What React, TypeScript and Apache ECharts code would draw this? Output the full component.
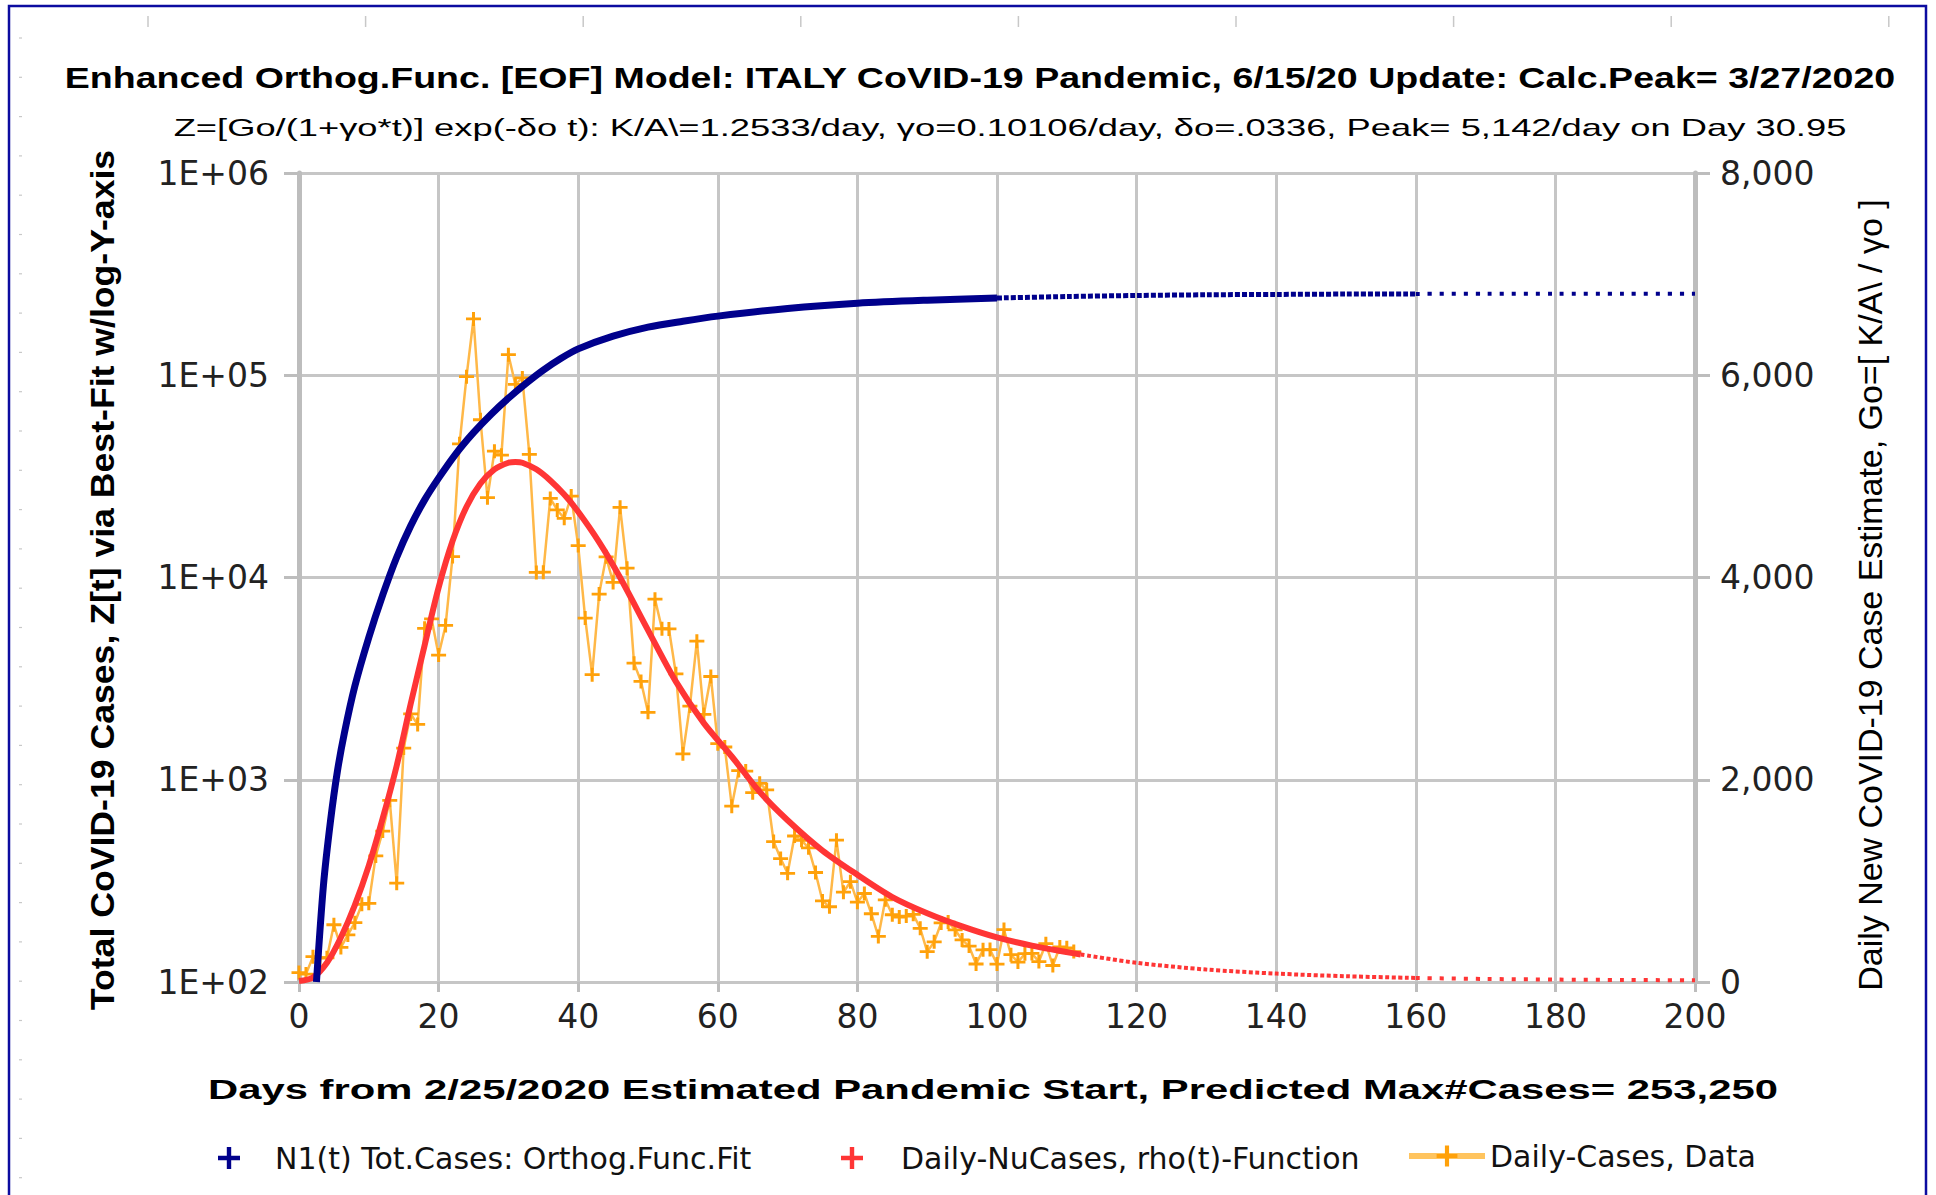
import React, { useEffect, useRef } from "react";
import * as echarts from "echarts";

// ---------- texts ----------
const TITLE =
  "Enhanced Orthog.Func. [EOF] Model: ITALY CoVID-19 Pandemic, 6/15/20 Update: Calc.Peak= 3/27/2020";
const SUBTITLE =
  "Z=[Go/(1+γo*t)] exp(-δo t): K/A\\=1.2533/day, γo=0.10106/day, δo=.0336, Peak= 5,142/day on Day 30.95";
const X_NAME =
  "Days from 2/25/2020 Estimated Pandemic Start, Predicted Max#Cases= 253,250";
const Y_LEFT_NAME = "Total CoVID-19 Cases, Z[t] via Best-Fit w/log-Y-axis";
const Y_RIGHT_NAME = "Daily New CoVID-19 Case Estimate, Go=[ K/A\\ / γo ]";

const NAME_FIT = "N1(t) Tot.Cases: Orthog.Func.Fit";
const NAME_RHO = "Daily-NuCases, rho(t)-Function";
const NAME_DATA = "Daily-Cases, Data";

// ---------- axes ----------
const X_MIN = 0;
const X_MAX = 200;
const X_STEP = 20;
const Y_LOG_MIN = 100;
const Y_LOG_MAX = 1000000;
const Y_LIN_MIN = 0;
const Y_LIN_MAX = 8000;
const Y_LIN_STEP = 2000;

// ---------- daily case data (day 0 = 2/25/2020) ----------
const DATA_DAYS = Array.from({ length: 112 }, (_, i) => i);
const DAILY_CASES = [
  93, 78, 250, 238, 240, 566, 342, 466, 587, 769,
  778, 1247, 1492, 1797, 977, 2313, 2651, 2547, 3497, 3590,
  3233, 3526, 4207, 5322, 5986, 6557, 5560, 4789, 5249, 5210,
  6203, 5909, 5974, 5217, 4050, 4053, 4782, 4668, 4585, 4805,
  4316, 3599, 3039, 3836, 4204, 3951, 4694, 4092, 3153, 2972,
  2667, 3786, 3493, 3491, 3047, 2256, 2729, 3370, 2646, 3021,
  2357, 2324, 1739, 2091, 2086, 1872, 1965, 1900, 1389, 1221,
  1075, 1444, 1401, 1327, 1083, 802, 744, 1402, 888, 992,
  789, 875, 675, 451, 813, 665, 642, 652, 669, 531,
  300, 397, 584, 593, 516, 416, 355, 178, 318, 321,
  177, 518, 270, 197, 280, 283, 202, 379, 163, 346,
  338, 301,
];

// ---------- total-case fit (left log axis) ----------
const FIT_DAYS = [
  2.5, 3.5, 4.5, 5.5, 6.5, 8, 10, 12, 14, 16, 18, 20, 22.5, 25, 27.5, 30,
  32.5, 35, 37.5, 40, 45, 50, 55, 60, 70, 80, 90, 100,
];
const FIT_TOTAL = [
  100, 300, 620, 1100, 1700, 2900, 5050, 8200, 12600, 18000, 24200, 31000,
  41000, 52000, 64000, 77000, 91000, 106000, 121000, 135000, 156000, 173000,
  185000, 196000, 214000, 227000, 235000, 241000,
];
const FIT_MID_DAYS = [100, 110, 120, 130, 140, 150, 160];
const FIT_MID_TOTAL = [241000, 245000, 248000, 250000, 251000, 252000, 252500];
const FIT_FAR_DAYS = [160, 170, 180, 190, 200];
const FIT_FAR_TOTAL = [252500, 252800, 253000, 253100, 253200];

// ---------- daily rho(t) function (right axis) ----------
const RHO_DAYS = [
  0, 2, 4, 6, 8, 10, 12, 14, 16, 18, 20, 22, 24, 26, 28, 30, 31, 32, 34, 36,
  38, 40, 43, 46, 50, 54, 58, 62, 66, 70, 75, 80, 85, 90, 95, 100, 105, 112,
];
const RHO_DAILY = [
  10, 45, 190, 440, 760, 1150, 1620, 2140, 2750, 3330, 3900, 4360, 4700, 4930,
  5070, 5135, 5142, 5135, 5070, 4960, 4820, 4650, 4350, 4000, 3480, 2970,
  2560, 2230, 1880, 1600, 1300, 1060, 840, 680, 550, 441, 360, 272,
];
const RHO_MID_DAYS = [112, 120, 130, 140, 150, 160];
const RHO_MID_DAILY = [272, 190, 123, 83, 57, 40];
const RHO_FAR_DAYS = [160, 170, 180, 190, 200];
const RHO_FAR_DAILY = [40, 30, 24, 20, 17];

// ---------- colours ----------
const BLUE = "#00008c";
const RED = "#ff3535";
const ORANGE = "#ffa10a";
const ORANGE_LINE = "#ffb848";
const GRID = "#c6c6c6";
const AXIS = "#bdbdbd";

const PLUS = "path://M6,0H9V6H15V9H9V15H6V9H0V6H6Z";

const pairs = (xs: number[], ys: number[]) => xs.map((x, i) => [x, ys[i]]);

function measure(text: string, font: string): number {
  const ctx = document.createElement("canvas").getContext("2d");
  if (!ctx) return 1;
  ctx.font = font;
  return ctx.measureText(text).width || 1;
}

function fittedText(
  text: string,
  font: string,
  cx: number,
  cy: number,
  target: number,
  rotation = 0,
  fill = "#000"
) {
  return {
    type: "text",
    x: cx,
    y: cy,
    rotation,
    scaleX: target / measure(text, font),
    silent: true,
    z: 10,
    style: {
      text,
      font,
      fill,
      align: "center",
      verticalAlign: "middle",
      textAlign: "center",
      textVerticalAlign: "middle",
    },
  };
}

function decorations() {
  const els: any[] = [];
  for (let i = 0; i < 9; i++) {
    const x = 148 + i * 217.6;
    els.push({
      type: "line",
      silent: true,
      shape: { x1: x, y1: 16, x2: x, y2: 27 },
      style: { stroke: "#c8c8c8", lineWidth: 1.5 },
    });
  }
  for (let y = 38; y < 1195; y += 39.3) {
    els.push({
      type: "line",
      silent: true,
      shape: { x1: 19, y1: y, x2: 22, y2: y },
      style: { stroke: "#c8c8c8", lineWidth: 1.2 },
    });
  }
  els.push({
    type: "rect",
    silent: true,
    shape: { x: 9, y: 6, width: 1917, height: 1210 },
    style: { fill: "none", stroke: "#0c0ca0", lineWidth: 2.5 },
  });
  return els;
}

const LABEL_FONT = "DejaVu Sans";
const LEGEND_TOP = 1138;

export default function App() {
  const ref = useRef<HTMLDivElement>(null);

  useEffect(() => {
    if (!ref.current) return;
    const chart = echarts.init(ref.current, undefined, { renderer: "svg" });

    const legendText = {
      fontFamily: LABEL_FONT,
      fontSize: 30,
      color: "#111",
    };

    const option: any = {
      animation: false,
      backgroundColor: "#ffffff",
      grid: {
        left: 299,
        right: 241,
        top: 173,
        bottom: 213,
        containLabel: false,
        outerBoundsMode: "none",
      },
      legend: [
        {
          data: [{ name: NAME_FIT, icon: PLUS }],
          left: 213,
          top: LEGEND_TOP,
          itemWidth: 82,
          itemHeight: 22,
          textStyle: legendText,
          selectedMode: false,
        },
        {
          data: [{ name: NAME_RHO, icon: PLUS }],
          left: 836,
          top: LEGEND_TOP,
          itemWidth: 88,
          itemHeight: 22,
          textStyle: legendText,
          selectedMode: false,
        },
        {
          data: [NAME_DATA],
          left: 1401,
          top: LEGEND_TOP - 2,
          itemWidth: 76,
          itemHeight: 26,
          textStyle: legendText,
          lineStyle: { width: 6, color: "#ffc45e" },
          selectedMode: false,
        },
      ],
      xAxis: {
        type: "value",
        min: X_MIN,
        max: X_MAX,
        interval: X_STEP,
        axisLine: { show: true, lineStyle: { color: GRID, width: 3 } },
        axisTick: { show: true, length: 10, lineStyle: { color: AXIS, width: 3 } },
        splitLine: { show: true, lineStyle: { color: GRID, width: 3 } },
        axisLabel: {
          fontFamily: LABEL_FONT,
          fontSize: 33,
          color: "#222",
          margin: 18,
        },
      },
      yAxis: [
        {
          type: "log",
          logBase: 10,
          min: Y_LOG_MIN,
          max: Y_LOG_MAX,
          position: "left",
          axisLine: { show: true, lineStyle: { color: AXIS, width: 5 } },
          axisTick: { show: true, length: 15, lineStyle: { color: AXIS, width: 3 } },
          splitLine: { show: true, lineStyle: { color: GRID, width: 3 } },
          minorTick: { show: false },
          axisLabel: {
            fontFamily: LABEL_FONT,
            fontSize: 33,
            color: "#222",
            margin: 30,
            formatter: (v: number) => {
              const e = Math.round(Math.log10(v));
              return "1E+" + String(e).padStart(2, "0");
            },
          },
        },
        {
          type: "value",
          min: Y_LIN_MIN,
          max: Y_LIN_MAX,
          interval: Y_LIN_STEP,
          position: "right",
          axisLine: { show: true, lineStyle: { color: AXIS, width: 5 } },
          axisTick: { show: true, length: 15, lineStyle: { color: AXIS, width: 3 } },
          splitLine: { show: false },
          axisLabel: {
            fontFamily: LABEL_FONT,
            fontSize: 33,
            color: "#222",
            margin: 25,
            formatter: (v: number) => v.toLocaleString("en-US"),
          },
        },
      ],
      series: [
        {
          name: NAME_DATA,
          type: "line",
          yAxisIndex: 1,
          data: pairs(DATA_DAYS, DAILY_CASES),
          symbol: PLUS,
          symbolSize: [15, 14],
          showSymbol: true,
          showAllSymbol: true,
          itemStyle: { color: ORANGE },
          lineStyle: { color: ORANGE_LINE, width: 2.5 },
          z: 2,
        },
        {
          name: NAME_RHO,
          type: "line",
          yAxisIndex: 1,
          data: pairs(RHO_DAYS, RHO_DAILY),
          smooth: 0.3,
          showSymbol: false,
          itemStyle: { color: RED },
          lineStyle: { color: RED, width: 6 },
          z: 3,
        },
        {
          name: NAME_RHO,
          type: "line",
          yAxisIndex: 1,
          data: pairs(RHO_MID_DAYS, RHO_MID_DAILY),
          smooth: 0.3,
          showSymbol: false,
          itemStyle: { color: RED },
          lineStyle: { color: RED, width: 4, type: [4, 2.5] },
          z: 3,
        },
        {
          name: NAME_RHO,
          type: "line",
          yAxisIndex: 1,
          data: pairs(RHO_FAR_DAYS, RHO_FAR_DAILY),
          smooth: 0.3,
          showSymbol: false,
          itemStyle: { color: RED },
          lineStyle: { color: RED, width: 4, type: [4, 8] },
          z: 3,
        },
        {
          name: NAME_FIT,
          type: "line",
          yAxisIndex: 0,
          data: pairs(FIT_DAYS, FIT_TOTAL),
          smooth: 0.3,
          showSymbol: false,
          itemStyle: { color: BLUE },
          lineStyle: { color: BLUE, width: 7 },
          z: 4,
        },
        {
          name: NAME_FIT,
          type: "line",
          yAxisIndex: 0,
          data: pairs(FIT_MID_DAYS, FIT_MID_TOTAL),
          smooth: 0.3,
          showSymbol: false,
          itemStyle: { color: BLUE },
          lineStyle: { color: BLUE, width: 5, type: [5, 2] },
          z: 4,
        },
        {
          name: NAME_FIT,
          type: "line",
          yAxisIndex: 0,
          data: pairs(FIT_FAR_DAYS, FIT_FAR_TOTAL),
          smooth: 0.3,
          showSymbol: false,
          itemStyle: { color: BLUE },
          lineStyle: { color: BLUE, width: 4, type: [4, 8] },
          z: 4,
        },
      ],
      graphic: {
        elements: [
          ...decorations(),
          fittedText(TITLE, 'bold 29px "Liberation Sans"', 980, 78, 1831),
          fittedText(SUBTITLE, '24px "Liberation Sans"', 1010, 128, 1673),
          fittedText(X_NAME, 'bold 28px "Liberation Sans"', 993, 1090, 1571),
          fittedText(Y_LEFT_NAME, 'bold 34px "Liberation Sans"', 102, 580, 861, Math.PI / 2),
          fittedText(Y_RIGHT_NAME, '33px "Liberation Sans"', 1871, 595, 792, Math.PI / 2),
        ],
      },
    };

    chart.setOption(option);
    return () => chart.dispose();
  }, []);

  return (
    <div
      ref={ref}
      style={{ position: "absolute", left: 0, top: 0, width: 1936, height: 1195, background: "#fff" }}
    />
  );
}
